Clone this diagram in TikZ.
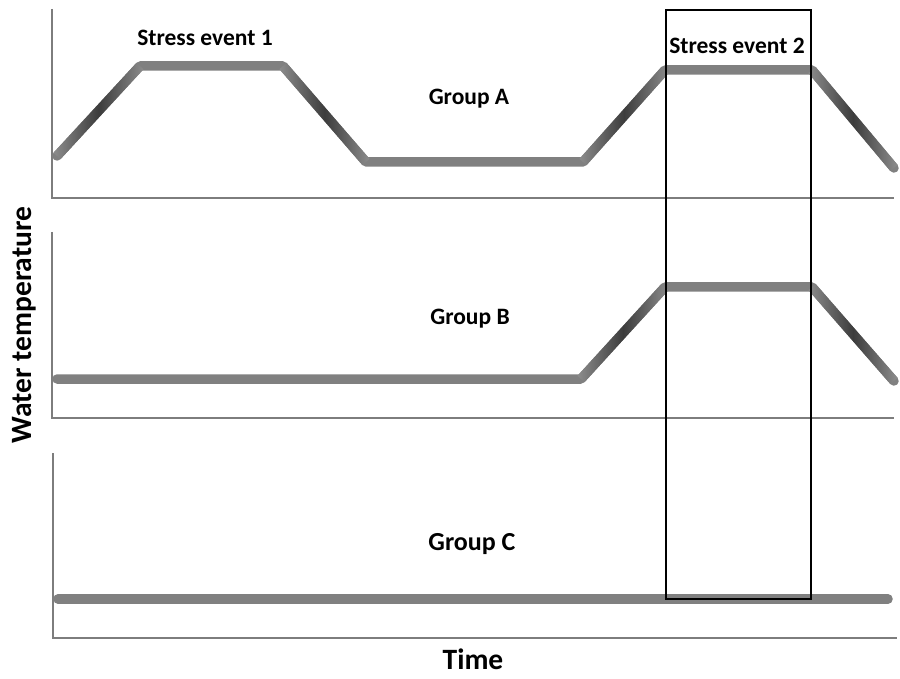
\documentclass[tikz,border=0pt]{standalone}
\usepackage{fontspec}
\setmainfont{Carlito}
\usetikzlibrary{calc}
\definecolor{lineg}{RGB}{128,128,128}
\definecolor{slopeend}{RGB}{140,140,140}
\definecolor{slopemid}{RGB}{60,60,60}
\definecolor{axisg}{RGB}{125,125,125}
\tikzset{
  curve/.style={draw=lineg, line width=9.5pt, line cap=round, line join=round},
  axisline/.style={draw=axisg, line width=2.6pt},
  lbl/.style={font=\bfseries\fontsize{23.5}{28}\selectfont, inner sep=0pt},
  biglbl/.style={font=\bfseries\fontsize{29.5}{34}\selectfont, inner sep=0pt},
}
\newcommand\shadeseg[2]{%
  \path let \p1=($(#2)-(#1)$), \n1={atan2(\y1,\x1)}, \n2={veclen(\x1,\y1)} in
    \pgfextra{\xdef\segang{\n1}\xdef\seglen{\n2}};
  \shade[shift={(#1)}, rotate=\segang, left color=slopeend, right color=slopeend, middle color=slopemid]
    (0pt,-4.75pt) rectangle (\seglen,4.75pt);
}
\begin{document}
\begin{tikzpicture}[x=1pt,y=-1pt]
\useasboundingbox (0,0) rectangle (900,679);
% axes
\coordinate (a0) at (52,9);
\coordinate (a1) at (52,198);
\coordinate (a2) at (894,198);
\coordinate (b0) at (52,232);
\coordinate (b1) at (52,418);
\coordinate (b2) at (894,418);
\coordinate (c0) at (53,453);
\coordinate (c1) at (53,638);
\coordinate (c2) at (897,638);
\draw[axisline] (a0) -- (a1) -- (a2);
\draw[axisline] (b0) -- (b1) -- (b2);
\draw[axisline] (c0) -- (c1) -- (c2);
% Group A curve
\coordinate (A1) at (57,156);
\coordinate (A2) at (140,66);
\coordinate (A3) at (283,66);
\coordinate (A4) at (366,162);
\coordinate (A5) at (583,162);
\coordinate (A6) at (665,70);
\coordinate (A7) at (812,70);
\coordinate (A8) at (894,168);
\draw[curve] (A1) -- (A2) -- (A3) -- (A4) -- (A5) -- (A6) -- (A7) -- (A8);
\shadeseg{A1}{A2}
\shadeseg{A3}{A4}
\shadeseg{A5}{A6}
\shadeseg{A7}{A8}
% Group B curve
\coordinate (B1) at (57,379);
\coordinate (B2) at (581,379);
\coordinate (B3) at (665,287);
\coordinate (B4) at (812,287);
\coordinate (B5) at (894,381);
\draw[curve] (B1) -- (B2) -- (B3) -- (B4) -- (B5);
\shadeseg{B2}{B3}
\shadeseg{B4}{B5}
% Group C curve
\coordinate (C1) at (58,599);
\coordinate (C2) at (888,599);
\draw[curve] (C1) -- (C2);
% stress event 2 box
\node[draw=black, line width=2.4pt, minimum width=145pt, minimum height=589pt, inner sep=0pt] (box) at (738.5,304.5) {};
% labels
\node[lbl] (se1) at (205,38) {Stress event 1};
\node[lbl] (se2) at (737,46) {Stress event 2};
\node[lbl] (ga) at (469,99) {Group A};
\node[lbl] (gb) at (470,319) {Group B};
\node[lbl, font=\bfseries\fontsize{26}{30}\selectfont] (gc) at (472,544) {Group C};
\node[biglbl] (time) at (473,659) {Time};
\node[biglbl, rotate=90] (wt) at (24,325) {Water temperature};
\end{tikzpicture}
\end{document}
